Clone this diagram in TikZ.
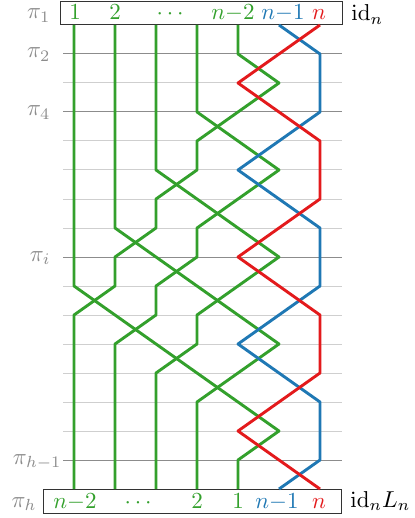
\documentclass[tikz,border=0pt]{standalone}
\usepackage{amsmath}
\definecolor{sgreen}{HTML}{33A02C}
\definecolor{sblue}{HTML}{1F78B4}
\definecolor{sred}{HTML}{E31A1C}
\definecolor{lvlgray}{HTML}{8C8C8C}
\definecolor{lightlvl}{HTML}{CFCFCF}
\definecolor{pigray}{HTML}{8C8C8C}
\begin{document}
\begin{tikzpicture}[x=0.5pt,y=-0.5pt,
  every node/.style={scale=1.15},
  strandline/.style={line width=1.45pt,line join=round},
  gstrand/.style={strandline,sgreen},
  bstrand/.style={strandline,sblue},
  rstrand/.style={strandline,sred},
  darklevel/.style={draw=lvlgray,line width=0.5pt},
  lightlevel/.style={draw=lightlvl,line width=0.5pt},
  permbox/.style={draw=black!80,line width=0.5pt},
  pilabel/.style={text=pigray,inner sep=0pt,anchor=base east},
  boxlabel/.style={inner sep=0pt,anchor=base},
  sidelabel/.style={inner sep=0pt,anchor=base west}]
\useasboundingbox (0,0) rectangle (415,518);
% grid points
\foreach \c in {1,...,7}
  \foreach \k in {1,...,17}
    \coordinate (p\c-\k) at ({74+41*(\c-1)},{25+29*(\k-1)});
% level lines
\foreach \k in {2,...,16}{
  \coordinate (la\k) at (63,{25+29*(\k-1)});
  \coordinate (lb\k) at (342,{25+29*(\k-1)});
}
\foreach \k in {3,5,6,7,8,10,11,12,13,14,15}
  \draw[lightlevel] (la\k) -- (lb\k);
\foreach \k in {2,4,9,16}
  \draw[darklevel] (la\k) -- (lb\k);
% boxes
\coordinate (tb1) at (60,2); \coordinate (tb2) at (342,25);
\coordinate (bb1) at (43,489); \coordinate (bb2) at (341,513);
\draw[permbox] (tb1) rectangle (tb2);
\draw[permbox] (bb1) rectangle (bb2);
% strands
\draw[gstrand] (p1-1) \foreach \c [count=\k from 2] in {1,1,1,1,1,1,1,1,1,2,3,4,5,6,5,5} {-- (p\c-\k)};
\draw[gstrand] (p2-1) \foreach \c [count=\k from 2] in {2,2,2,2,2,2,2,3,4,5,6,5,4,4,4,4} {-- (p\c-\k)};
\draw[gstrand] (p3-1) \foreach \c [count=\k from 2] in {3,3,3,3,3,4,5,6,5,4,4,3,3,3,3,3} {-- (p\c-\k)};
\draw[gstrand] (p4-1) \foreach \c [count=\k from 2] in {4,4,4,5,6,5,4,4,3,3,2,2,2,2,2,2} {-- (p\c-\k)};
\draw[gstrand] (p5-1) \foreach \c [count=\k from 2] in {5,6,5,4,4,3,3,2,2,1,1,1,1,1,1,1} {-- (p\c-\k)};
\draw[bstrand] (p6-1) \foreach \c [count=\k from 2] in {7,7,7,6,5,6,7,7,7,6,5,6,7,7,7,6} {-- (p\c-\k)};
\draw[rstrand] (p7-1) \foreach \c [count=\k from 2] in {6,5,6,7,7,7,6,5,6,7,7,7,6,5,6,7} {-- (p\c-\k)};
% top labels
\node[boxlabel,text=sgreen] (t1) at (75,20) {$1$};
\node[boxlabel,text=sgreen] (t2) at (115,20) {$2$};
\node[boxlabel,text=sgreen] (t3) at (172,20) {$\cdots$};
\node[boxlabel,text=sgreen] (t4) at (233,20) {$n{-}2$};
\node[boxlabel,text=sblue] (t5) at (283,20) {$n{-}1$};
\node[boxlabel,text=sred] (t6) at (319,20) {$n$};
% bottom labels
\node[boxlabel,text=sgreen] (b1) at (75,508) {$n{-}2$};
\node[boxlabel,text=sgreen] (b2) at (140,508) {$\cdots$};
\node[boxlabel,text=sgreen] (b3) at (197,508) {$2$};
\node[boxlabel,text=sgreen] (b4) at (238,508) {$1$};
\node[boxlabel,text=sblue] (b5) at (277,508) {$n{-}1$};
\node[boxlabel,text=sred] (b6) at (319,508) {$n$};
% level labels
\node[pilabel] (q1) at (51,19) {$\pi_1$};
\node[pilabel] (q2) at (51,58) {$\pi_2$};
\node[pilabel] (q4) at (51,116) {$\pi_4$};
\node[pilabel] (qi) at (51,261) {$\pi_i$};
\node[pilabel] (qh1) at (62,464) {$\pi_{h-1}$};
\node[pilabel] (qh) at (37,507) {$\pi_h$};
% right labels
\node[sidelabel] (r1) at (351,21) {$\mathrm{id}_n$};
\node[sidelabel] (r2) at (350,507) {$\mathrm{id}_n L_n$};
\end{tikzpicture}
\end{document}
